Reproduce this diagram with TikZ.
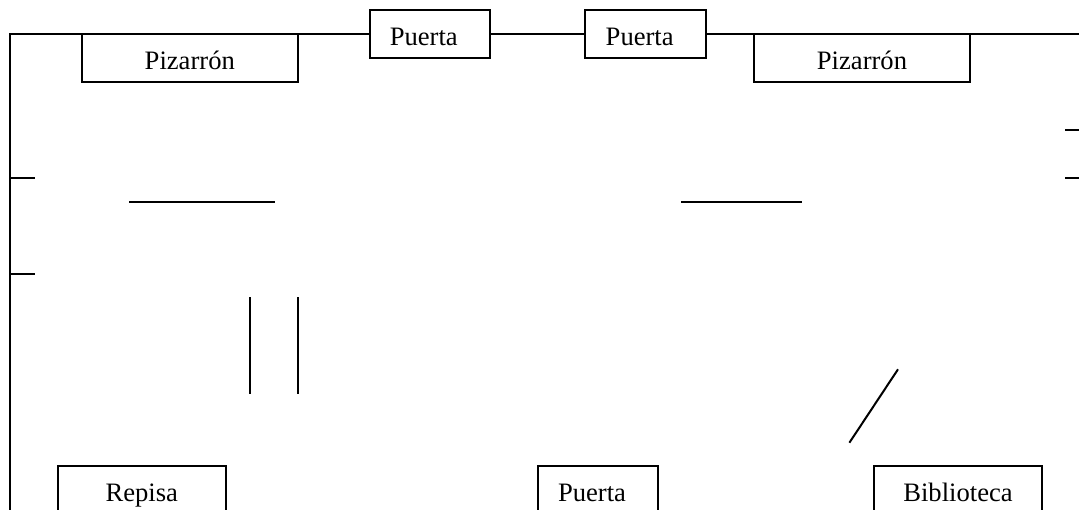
\documentclass[tikz,border=0pt]{standalone}
\usepackage{fontspec}
\setmainfont{Liberation Serif}
\tikzset{
	mueble/.style={draw,line width=2pt,outer sep=0pt,inner sep=0pt,minimum height=48pt,
		text height=28pt,text depth=4pt,font=\fontsize{26.6}{30}\selectfont},
	pizarron/.style={mueble,minimum width=216.5pt},
	repisa/.style={mueble,minimum width=168.5pt},
	puerta/.style={mueble,minimum width=120.5pt},
	muro/.style={line width=2pt}
}
\begin{document}
\begin{tikzpicture}[x=1pt,y=-1pt]
		\useasboundingbox (0,0) rectangle (1079,510);
		\clip (0,0) rectangle (1079,510);
		% top wall
		\node[puerta] (puertaA) at (429.8,34) {Puerta\hspace*{12pt}};
		\node[puerta] (puertaB) at (645.7,34) {Puerta\hspace*{12pt}};
		\node[pizarron] (pizarronA) at (189.8,58) {Pizarrón};
		\node[pizarron] (pizarronB) at (862,58) {Pizarrón};
		\coordinate (esquina) at (9.6,510);
		\coordinate (finmuro) at (1079,34);
		\draw[muro] (esquina) |- (puertaA.west);
		\draw[muro] (puertaA.east) -- (puertaB.west);
		\draw[muro] (puertaB.east) -- (finmuro);

		% bottom row
		\node[repisa] (repisa) at (141.8,489.7) {Repisa};
		\node[puerta] (puertaC) at (598,489.7) {Puerta\hspace*{12pt}};
		\node[repisa] (biblioteca) at (958,489.7) {Biblioteca};

		% marks on the walls
		\draw[muro] (9.6,178) -- (34.5,178);
		\draw[muro] (9.6,274) -- (34.5,274);
		\draw[muro] (1065,129.7) -- (1079,129.7);
		\draw[muro] (1065,178) -- (1079,178);

		% loose lines
		\draw[muro] (129,201.7) -- (274.5,201.7);
		\draw[muro] (681,201.7) -- (802,201.7);
		\draw[muro] (249.7,297.3) -- (249.7,394.3);
		\draw[muro] (297.5,297.3) -- (297.5,394.3);
		\draw[muro] (898,369.3) -- (849.4,442.7);
\end{tikzpicture}
\end{document}
